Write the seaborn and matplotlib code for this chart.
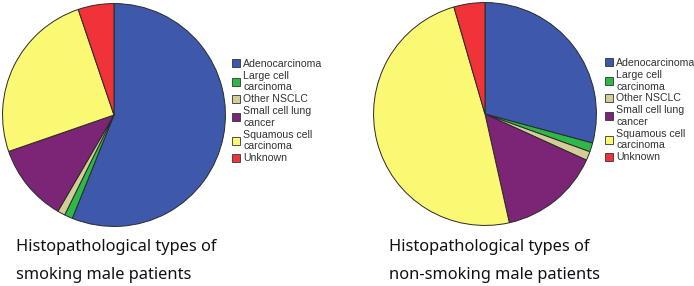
import matplotlib
matplotlib.use("Agg")
import matplotlib.pyplot as plt
import seaborn as sns
from matplotlib.patches import Patch

# data (percent of patients)
types = ["Adenocarcinoma", "Large cell\ncarcinoma", "Other NSCLC",
         "Small cell lung\ncancer", "Squamous cell\ncarcinoma", "Unknown"]
smoking = [56.1, 1.2, 1.1, 11.3, 25.1, 5.2]
non_smoking = [29.2, 1.3, 1.3, 14.7, 49.0, 4.5]
titles = ["Histopathological types of\nsmoking male patients",
          "Histopathological types of\nnon-smoking male patients"]

colors = ["#3e58ac", "#2eb848", "#d3ce97", "#7c2476", "#fbf873", "#ef3338"]

sns.set_theme(style="white")
plt.rcParams['font.family'] = ['Noto Sans', 'DejaVu Sans']

W, H = 694, 286
fig = plt.figure(figsize=(W / 100, H / 100), dpi=100)

def draw_pie(values, cx, cy, r, legend_xy, title, title_xy):
    ax = fig.add_axes([(cx - r) / W, 1 - (cy + r) / H, 2 * r / W, 2 * r / H])
    ax.pie(values, colors=colors, startangle=90, counterclock=False,
           wedgeprops=dict(edgecolor="#2a2a2a", linewidth=0.7))
    ax.set_xlim(-1.005, 1.005)
    ax.set_ylim(-1.005, 1.005)
    ax.axis("off")

    handles = [Patch(facecolor=c, edgecolor="#333333", linewidth=0.6) for c in colors]
    fig.legend(handles, types, loc="upper left",
               bbox_to_anchor=(legend_xy[0] / W, 1 - legend_xy[1] / H),
               frameon=False, borderpad=0, borderaxespad=0,
               handlelength=0.8, handleheight=0.8, handletextpad=0.25,
               labelspacing=0.18, prop={"family": "Liberation Sans", "size": 7.6},
               labelcolor="#333333")

    fig.text(title_xy[0] / W, 1 - title_xy[1] / H, title, ha="left", va="center",
             fontsize=11.8, color="#111111", linespacing=2.0)

draw_pie(smoking, 114, 115, 112, (232, 59), titles[0], (16, 261))
draw_pie(non_smoking, 485, 114, 112, (605, 58), titles[1], (389, 261))

fig.savefig("out.png", dpi=100, facecolor="white")
